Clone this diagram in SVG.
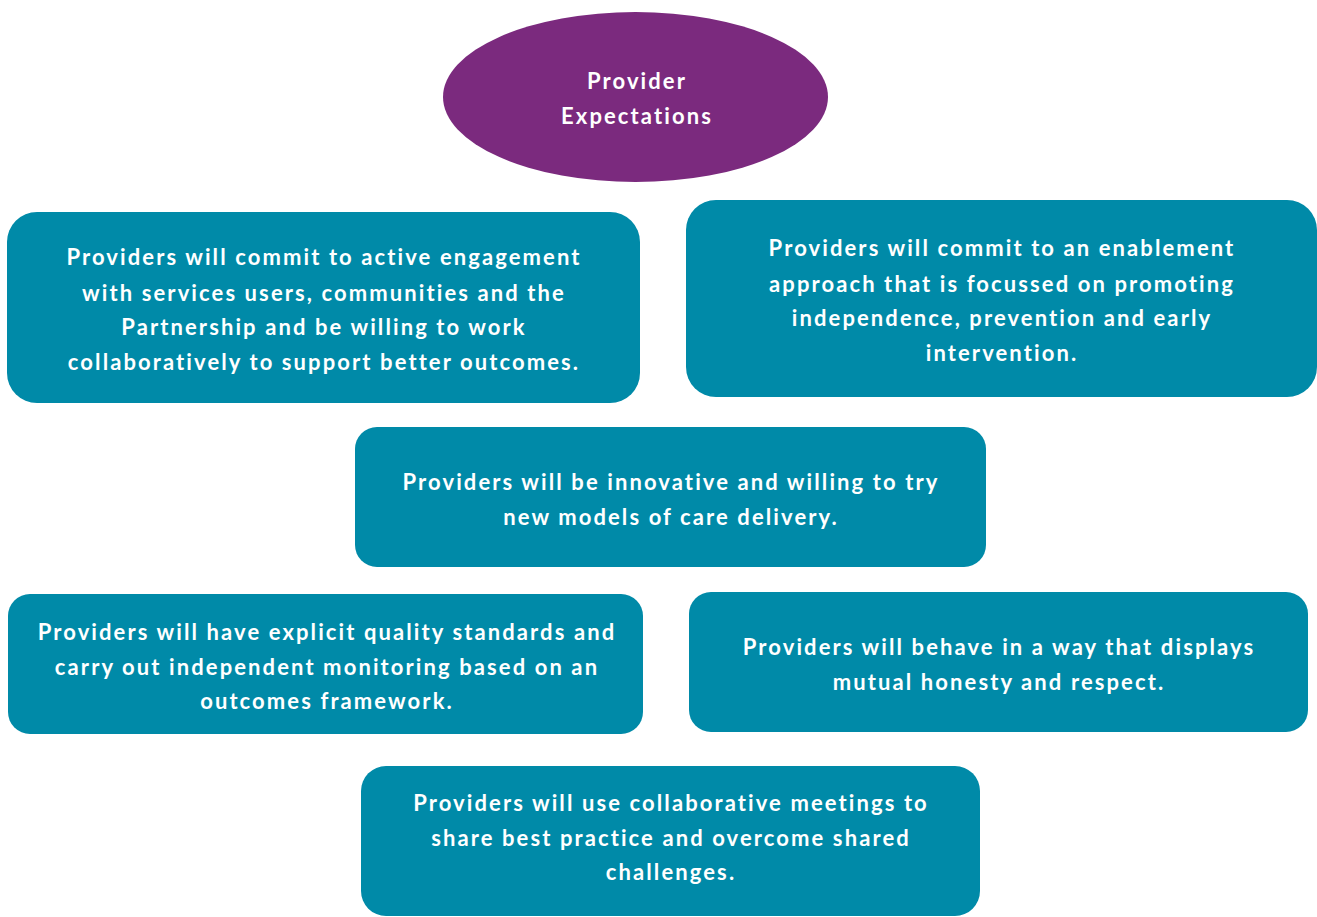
<svg xmlns="http://www.w3.org/2000/svg" width="1317" height="917" viewBox="0 0 1317 917">
<style>
.box{fill:#008AA8}
.t{font-family:Lato,"Open Sans","Liberation Sans",sans-serif;font-weight:700;font-size:22px;letter-spacing:2.1px;fill:#fff;text-anchor:middle;dominant-baseline:central}
</style>
<rect width="1317" height="917" fill="#fff"/>
<g id="connectors"></g>
<g id="center">
<ellipse cx="635.5" cy="97" rx="192.5" ry="85" fill="#7B2A7E"/>
<text class="t" x="637" y="80">Provider</text>
<text class="t" x="637" y="115">Expectations</text>
</g>
<g id="n1">
<rect class="box" x="7" y="212" width="633" height="191" rx="30"/>
<text class="t" x="324" y="256">Providers will commit to active engagement</text>
<text class="t" x="324" y="292">with services users, communities and the</text>
<text class="t" x="324" y="326">Partnership and be willing to work</text>
<text class="t" x="324" y="361">collaboratively to support better outcomes.</text>
</g>
<g id="n2">
<rect class="box" x="686" y="200" width="631" height="197" rx="30"/>
<text class="t" x="1002" y="247">Providers will commit to an enablement</text>
<text class="t" x="1002" y="283">approach that is focussed on promoting</text>
<text class="t" x="1002" y="317">independence, prevention and early</text>
<text class="t" x="1002" y="352">intervention.</text>
</g>
<g id="n3">
<rect class="box" x="355" y="427" width="631" height="140" rx="22"/>
<text class="t" x="671" y="481">Providers will be innovative and willing to try</text>
<text class="t" x="671" y="516">new models of care delivery.</text>
</g>
<g id="n4">
<rect class="box" x="8" y="594" width="635" height="140" rx="22"/>
<text class="t" x="327" y="631">Providers will have explicit quality standards and</text>
<text class="t" x="327" y="666">carry out independent monitoring based on an</text>
<text class="t" x="327" y="700">outcomes framework.</text>
</g>
<g id="n5">
<rect class="box" x="689" y="592" width="619" height="140" rx="22"/>
<text class="t" x="999" y="646">Providers will behave in a way that displays</text>
<text class="t" x="999" y="681">mutual honesty and respect.</text>
</g>
<g id="n6">
<rect class="box" x="361" y="766" width="619" height="150" rx="25"/>
<text class="t" x="671" y="802">Providers will use collaborative meetings to</text>
<text class="t" x="671" y="837">share best practice and overcome shared</text>
<text class="t" x="671" y="871">challenges.</text>
</g>
</svg>
